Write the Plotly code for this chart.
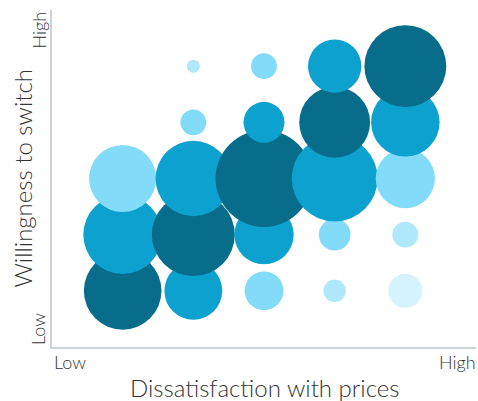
import plotly.graph_objects as go

# Share of respondents (%) in each willingness level, per dissatisfaction level
dissatisfaction_levels = [1, 2, 3, 4, 5]
willingness_levels = [1, 2, 3, 4, 5]
shares = {
    1: [36, 37, 27, 0, 0],
    2: [20, 41, 34, 4, 1],
    3: [9, 21, 56, 10, 4],
    4: [3, 6, 44, 30, 17],
    5: [7, 4, 21, 28, 40],
}
low_label = "Low"
high_label = "High"
x_title = "Dissatisfaction with prices"
y_title = "Willingness to switch"

# Shade by distance from the diagonal (darkest on the diagonal)
palette = ["#086c8b", "#0ca1ce", "#82dcf9", "#afe8fa", "#d6f4fd"]

xs, ys, vals, cols = [], [], [], []
for d in dissatisfaction_levels:
    for w, v in zip(willingness_levels, shares[d]):
        if v <= 0:
            continue
        xs.append(d)
        ys.append(w)
        vals.append(v)
        cols.append(palette[abs(w - d)])

fig = go.Figure(
    go.Scatter(
        x=xs,
        y=ys,
        mode="markers",
        marker=dict(
            size=vals,
            sizemode="area",
            sizeref=2 / 167.5,
            color=cols,
            opacity=1,
            line=dict(width=0),
        ),
        hoverinfo="skip",
    )
)

axis_common = dict(
    range=[0, 6],
    showgrid=False,
    zeroline=False,
    showticklabels=False,
    ticks="",
    showline=True,
    linecolor="#cdd2d5",
    linewidth=2,
    fixedrange=True,
)
fig.update_xaxes(**axis_common)
fig.update_yaxes(**axis_common)

font_light = dict(family="Lato", weight=300, color="#333333")
tick_font = dict(font_light, size=18)
title_font = dict(font_light, size=24)

annotations = [
    dict(text=low_label, x=0, y=0, xanchor="left", yanchor="middle",
         xshift=0, yshift=-15, font=tick_font),
    dict(text=high_label, x=1, y=0, xanchor="right", yanchor="middle",
         xshift=2, yshift=-15, font=tick_font),
    dict(text=low_label, x=0, y=0, xanchor="center", yanchor="bottom",
         textangle=-90, xshift=-14, yshift=0, font=tick_font),
    dict(text=high_label, x=0, y=1, xanchor="center", yanchor="top",
         textangle=-90, xshift=-14, yshift=0, font=tick_font),
    dict(text=x_title, x=0.5, y=0, xanchor="center", yanchor="middle",
         yshift=-40, font=title_font),
    dict(text=y_title, x=0, y=0.5, xanchor="center", yanchor="middle",
         textangle=-90, xshift=-30, font=title_font),
]
for a in annotations:
    a.update(xref="paper", yref="paper", showarrow=False)

fig.update_layout(
    width=478,
    height=401,
    margin=dict(l=52, r=2, t=10, b=54),
    paper_bgcolor="white",
    plot_bgcolor="white",
    showlegend=False,
    annotations=annotations,
)

fig.write_html("out.html", config={"displayModeBar": False})
